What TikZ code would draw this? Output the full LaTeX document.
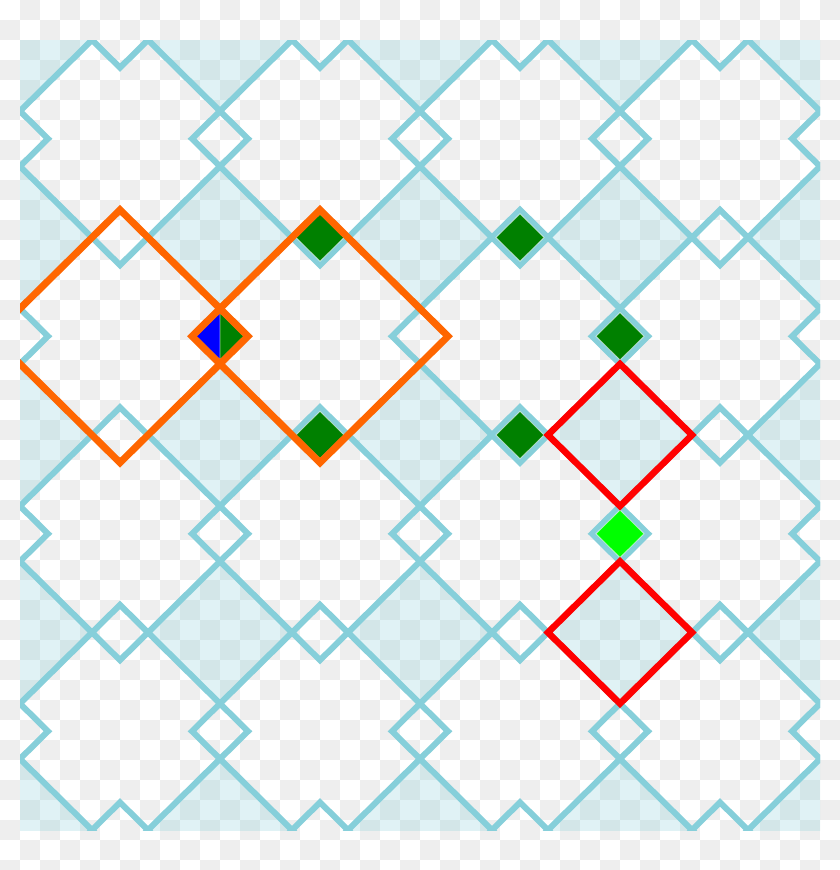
\documentclass[tikz,border=0pt]{standalone}
\usetikzlibrary{backgrounds}
\definecolor{checkgray}{HTML}{EEEEEE}
\definecolor{tilecyan}{RGB}{134,207,218}
\definecolor{tileorange}{RGB}{255,102,0}
\definecolor{tilered}{RGB}{255,0,0}
\definecolor{tilegreen}{RGB}{0,128,0}
\definecolor{tilelime}{RGB}{0,255,0}
\definecolor{tileblue}{RGB}{0,0,255}
\tikzset{
    tileline/.style={draw=tilecyan, line width=6pt},
    gapfill/.style={fill=tilecyan, fill opacity=0.25},
    orangeline/.style={draw=tileorange, line width=7pt},
    redline/.style={draw=tilered, line width=6.5pt},
    gem/.style={draw=white, draw opacity=0.6, line width=0.8pt}
}
% options, x, y, half diagonal
\newcommand{\tilerhomb}[4]{\path[#1, shift={(#2,#3)}] (-#4,0) -- (0,-0.9875*#4) -- (#4,0) -- (0,0.9875*#4) -- cycle;}

\begin{document}
\begin{tikzpicture}[x=1pt, y=-1pt]
        \useasboundingbox (0,0) rectangle (840,870);
        % Checker background
        \fill[white] (0,0) rectangle (840,870);
        \foreach \i in {0,...,41}
            \foreach \j in {0,...,43} {
                \pgfmathtruncatemacro\odd{mod(\i+\j,2)}
                \ifnum\odd=1 \fill[checkgray] (20*\i,20*\j) rectangle ++(20,20); \fi
            }

        \begin{scope}
            \clip (20,40) rectangle (820,830);
            % Gaps
            \foreach \i in {0,...,4}
                \foreach \j in {0,...,4}
                    {\tilerhomb{gapfill}{20+200*\i}{40+197.5*\j}{72}}
            % Tiles
            \foreach \i in {-1,...,4}
                \foreach \j in {-1,...,4}
                    {\tilerhomb{tileline}{120+200*\i}{138.75+197.5*\j}{128}}

            % Small filled squares
            \foreach \x/\y in {320/237.5, 520/237.5, 320/435, 520/435, 620/336.25}
                {\tilerhomb{gem, fill=tilegreen}{\x}{\y}{24}}
            \tilerhomb{gem, fill=tilelime}{620}{533.75}{24}
            \begin{scope}[shift={(220,336.25)}]
                \fill[tileblue] (-24,0) -- (0,-23.7) -- (0,23.7) -- cycle;
                \fill[tilegreen] (24,0) -- (0,-23.7) -- (0,23.7) -- cycle;
                \draw[gem] (-24,0) -- (0,-23.7) -- (24,0) -- (0,23.7) -- cycle (0,-23.7) -- (0,23.7);
            \end{scope}

            % Highlights
            \tilerhomb{orangeline}{120}{336.25}{128}
            \tilerhomb{orangeline}{320}{336.25}{128}
            \tilerhomb{redline}{620}{435}{72}
            \tilerhomb{redline}{620}{632.5}{72}
        \end{scope}
\end{tikzpicture}
\end{document}
